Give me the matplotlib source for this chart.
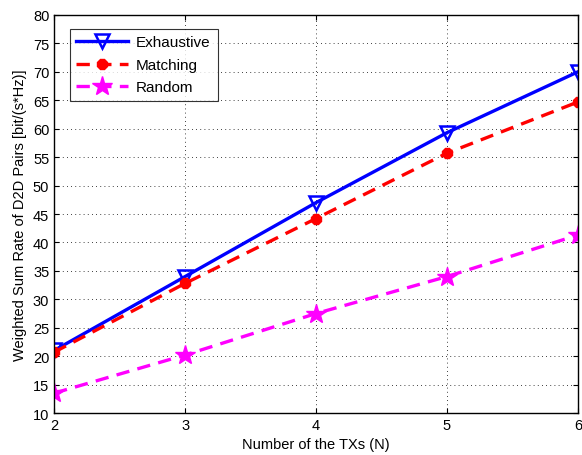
import matplotlib
matplotlib.use('Agg')
import matplotlib.pyplot as plt

plt.rcParams['font.family'] = ['Liberation Sans', 'DejaVu Sans']

n_tx = [2, 3, 4, 5, 6]
exhaustive = [21.0, 34.0, 47.0, 59.3, 70.0]
matching = [20.7, 32.8, 44.2, 55.7, 64.7]
random_sel = [13.5, 20.2, 27.5, 34.0, 41.3]

fig = plt.figure(figsize=(5.82, 4.56), dpi=100)
ax = fig.add_axes([0.093, 0.092, 0.9, 0.873])

ax.plot(n_tx, exhaustive, color='#0000ff', linewidth=2.4, marker='v',
        markersize=10, mfc='none', mew=1.8, label='Exhaustive')
ax.plot(n_tx, matching, color='#ff0000', linewidth=2.4, ls=(0, (4, 2.5)),
        marker='8', markersize=8, label='Matching')
ax.plot(n_tx, random_sel, color='#ff00ff', linewidth=2.4, ls=(0, (4, 2.5)),
        marker='*', markersize=15, label='Random')

ax.set_xlim(2, 6)
ax.set_ylim(10, 80)
ax.set_xticks(n_tx)
ax.set_yticks(range(10, 81, 5))
ax.grid(True, color='k', linestyle=(0, (1, 4)), linewidth=0.6)
ax.tick_params(direction='in', top=True, right=True, labelsize=10.5)
for s in ax.spines.values():
    s.set_linewidth(1.0)

ax.set_xlabel('Number of the TXs (N)', fontsize=10.5)
ax.set_ylabel('Weighted Sum Rate of D2D Pairs [bit/(s*Hz)]', fontsize=10.5)

leg = ax.legend(loc='upper left', bbox_to_anchor=(0.015, 0.985), fontsize=11,
                fancybox=False, edgecolor='k', handlelength=3.4,
                borderpad=0.45, labelspacing=0.55, handletextpad=0.5)
leg.get_frame().set_linewidth(0.8)

fig.savefig('out.png', dpi=100)
